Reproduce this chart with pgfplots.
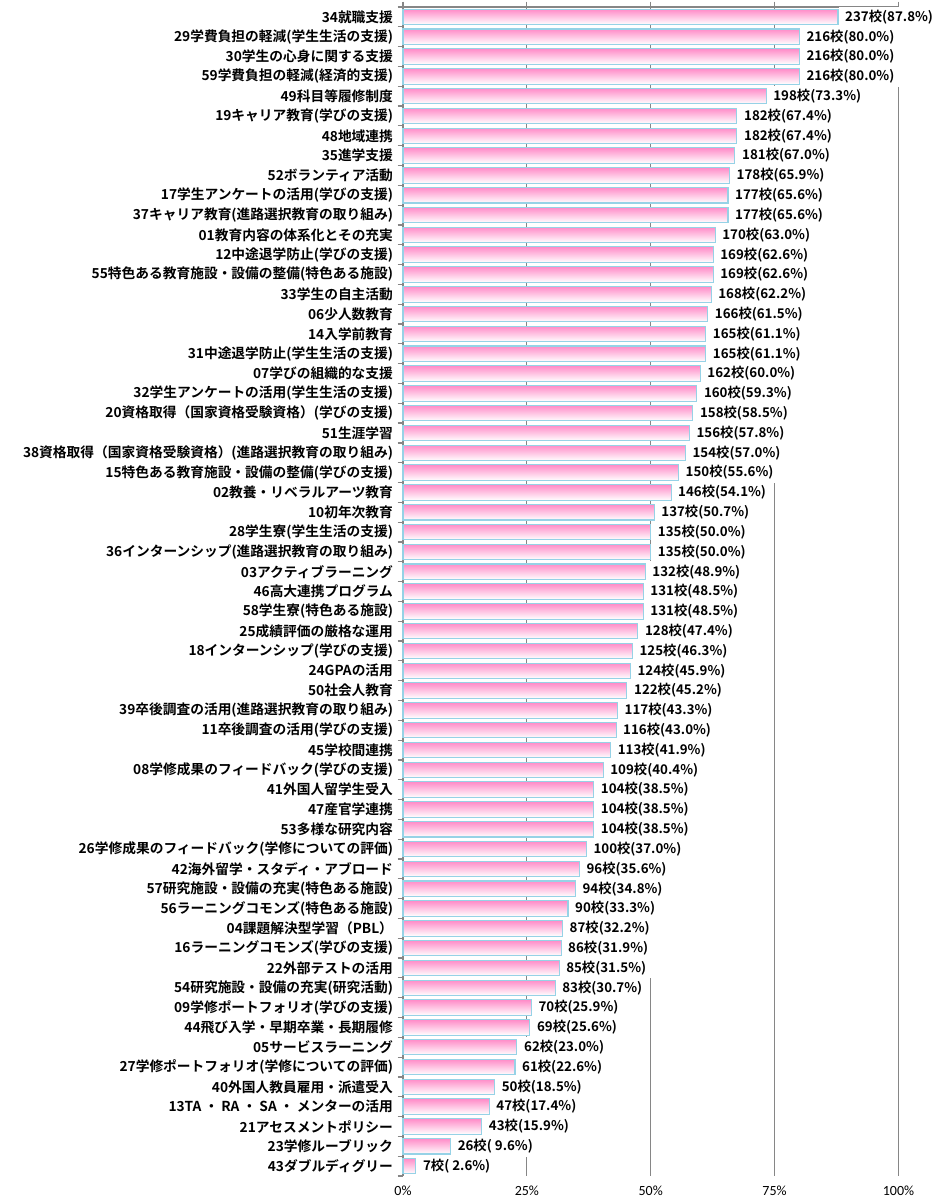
\documentclass[border=0pt]{standalone}
\usepackage{fontspec}
\setmainfont{Noto Sans CJK JP}[BoldFont={Noto Sans CJK JP Bold}]
\newfontfamily\carlito{Carlito}
\usepackage{pgfplots}
\pgfplotsset{compat=1.18}
\usepackage{pgfplotstable}

\definecolor{barpink}{RGB}{255,140,200}
\definecolor{barline}{RGB}{150,210,230}
\definecolor{axisgray}{RGB}{134,134,134}

% i = row (top to bottom), n = schools, p = percent of 270
\pgfplotstableread{
i n p
0 237 87.8
1 216 80.0
2 216 80.0
3 216 80.0
4 198 73.3
5 182 67.4
6 182 67.4
7 181 67.0
8 178 65.9
9 177 65.6
10 177 65.6
11 170 63.0
12 169 62.6
13 169 62.6
14 168 62.2
15 166 61.5
16 165 61.1
17 165 61.1
18 162 60.0
19 160 59.3
20 158 58.5
21 156 57.8
22 154 57.0
23 150 55.6
24 146 54.1
25 137 50.7
26 135 50.0
27 135 50.0
28 132 48.9
29 131 48.5
30 131 48.5
31 128 47.4
32 125 46.3
33 124 45.9
34 122 45.2
35 117 43.3
36 116 43.0
37 113 41.9
38 109 40.4
39 104 38.5
40 104 38.5
41 104 38.5
42 100 37.0
43 96 35.6
44 94 34.8
45 90 33.3
46 87 32.2
47 86 31.9
48 85 31.5
49 83 30.7
50 70 25.9
51 69 25.6
52 62 23.0
53 61 22.6
54 50 18.5
55 47 17.4
56 43 15.9
57 26 9.6
58 7 2.6
}\schools

\begin{document}
\begin{tikzpicture}
\path[use as bounding box] (-302.25pt,-21pt) rectangle (405.75pt,882pt);
\begin{axis}[
  at={(0,0)}, anchor=south west,
  scale only axis, width=371.6pt, height=876.75pt,
  xbar, bar width=0.78,
  xmin=0, xmax=100,
  ymin=-0.5, ymax=58.5, y dir=reverse,
  clip=false,
  /pgf/number format/assume math mode=true,
  axis line style={draw=none},
  xtick={0,25,50,75,100},
  xtick pos=upper, xticklabel pos=lower,
  xticklabel={\pgfmathprintnumber{\tick}\%},
  xticklabel style={font=\carlito\fontsize{10.5}{12}\selectfont, text=black},
  xmajorgrids,
  major grid style={draw=axisgray, line width=0.9pt},
  major x tick style={draw=axisgray, line width=0.9pt},
  tick align=outside,
  major tick length=4pt,
  minor tick length=4pt,
  ytick={0,...,58},
  ytick pos=left,
  major y tick style={draw=none},
  minor ytick={-0.5,0.5,...,58.5},
  minor y tick style={draw=axisgray, line width=0.9pt},
  yticklabel style={font=\bfseries\fontsize{10.3}{12}\selectfont, anchor=east, text=black},
  yticklabels={
    {34就職支援},
    {29学費負担の軽減(学生生活の支援)},
    {30学生の心身に関する支援},
    {59学費負担の軽減(経済的支援)},
    {49科目等履修制度},
    {19キャリア教育(学びの支援)},
    {48地域連携},
    {35進学支援},
    {52ボランティア活動},
    {17学生アンケートの活用(学びの支援)},
    {37キャリア教育(進路選択教育の取り組み)},
    {01教育内容の体系化とその充実},
    {12中途退学防止(学びの支援)},
    {55特色ある教育施設・設備の整備(特色ある施設)},
    {33学生の自主活動},
    {06少人数教育},
    {14入学前教育},
    {31中途退学防止(学生生活の支援)},
    {07学びの組織的な支援},
    {32学生アンケートの活用(学生生活の支援)},
    {20資格取得（国家資格受験資格）(学びの支援)},
    {51生涯学習},
    {38資格取得（国家資格受験資格）(進路選択教育の取り組み)},
    {15特色ある教育施設・設備の整備(学びの支援)},
    {02教養・リベラルアーツ教育},
    {10初年次教育},
    {28学生寮(学生生活の支援)},
    {36インターンシップ(進路選択教育の取り組み)},
    {03アクティブラーニング},
    {46高大連携プログラム},
    {58学生寮(特色ある施設)},
    {25成績評価の厳格な運用},
    {18インターンシップ(学びの支援)},
    {24GPAの活用},
    {50社会人教育},
    {39卒後調査の活用(進路選択教育の取り組み)},
    {11卒後調査の活用(学びの支援)},
    {45学校間連携},
    {08学修成果のフィードバック(学びの支援)},
    {41外国人留学生受入},
    {47産官学連携},
    {53多様な研究内容},
    {26学修成果のフィードバック(学修についての評価)},
    {42海外留学・スタディ・アブロード},
    {57研究施設・設備の充実(特色ある施設)},
    {56ラーニングコモンズ(特色ある施設)},
    {04課題解決型学習（PBL）},
    {16ラーニングコモンズ(学びの支援)},
    {22外部テストの活用},
    {54研究施設・設備の充実(研究活動)},
    {09学修ポートフォリオ(学びの支援)},
    {44飛び入学・早期卒業・長期履修},
    {05サービスラーニング},
    {27学修ポートフォリオ(学修についての評価)},
    {40外国人教員雇用・派遣受入},
    {13TA ・ RA ・ SA ・ メンターの活用},
    {21アセスメントポリシー},
    {23学修ルーブリック},
    {43ダブルディグリー}
  },
  nodes near coords={\pgfmathfloattofixed{\pgfplotspointmeta}\let\cnt\pgfmathresult
    \pgfmathsetmacro\pct{\cnt/2.7}\pgfmathprintnumber[fixed,precision=0]{\cnt}校(\ifdim\pct pt<10pt\ \fi\pgfmathprintnumber[fixed,fixed zerofill,precision=1]{\pct}\%)},
  every node near coord/.append style={
    font=\bfseries\fontsize{10}{12}\selectfont, text=black,
    fill=white, anchor=west, inner xsep=5pt, inner ysep=0pt,
    minimum height=15.6pt},
]
\draw[axisgray, line width=1.2pt] (axis cs:0,58.5) -- (axis cs:0,-0.5) -- (axis cs:100,-0.5);
% one plot per row so that every bar gets its own pink-to-white shading
\pgfplotsinvokeforeach{0,...,58}{
  \addplot[
    bar shift=0pt,
    draw=barline, line width=0.8pt,
    top color=barpink, bottom color=white,
    point meta=explicit,
    restrict expr to domain={\coordindex}{#1:#1}
  ] table[x=p, y=i, meta=n] {\schools};
}
\end{axis}
\node[anchor=east, font=\bfseries\fontsize{10}{12}\selectfont] at (-299.25pt,867pt) {)};
\node[anchor=east, font=\bfseries\fontsize{10}{12}\selectfont] at (-299.25pt,853.5pt) {)};
\end{tikzpicture}
\end{document}
